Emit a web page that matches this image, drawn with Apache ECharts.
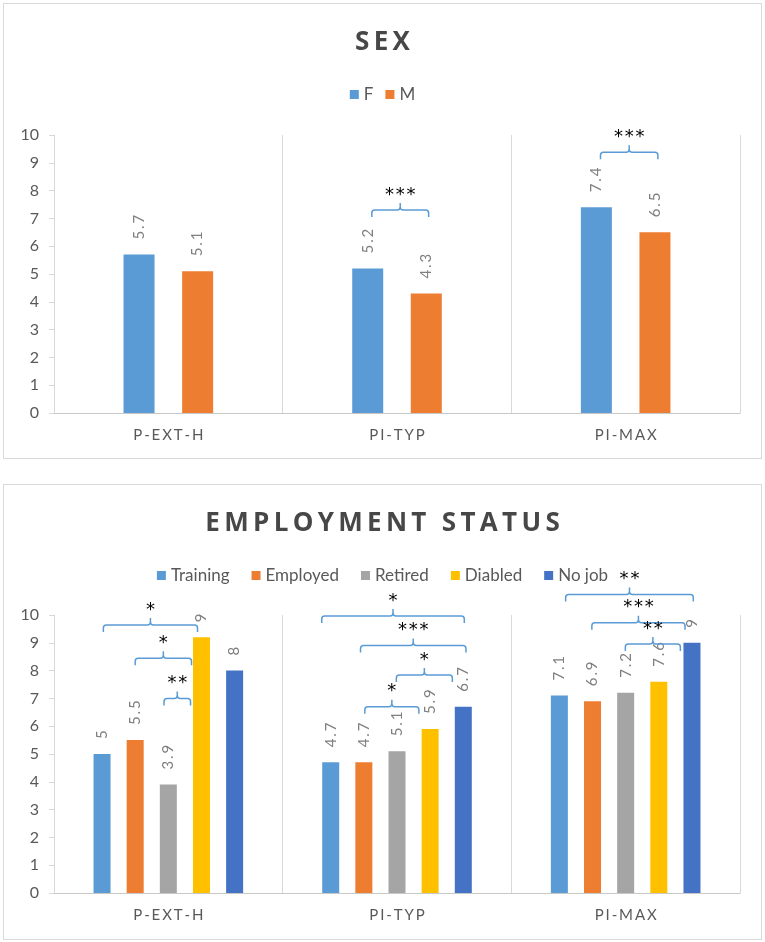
<!DOCTYPE html>
<html>
<head>
<meta charset="utf-8">
<script src="https://cdn.jsdelivr.net/npm/echarts@6/dist/echarts.min.js"></script>
<style>
  body { margin: 0; background: #fff; }
  .panel { position: absolute; left: 3px; width: 759px; height: 456px; box-sizing: border-box; border: 1px solid #d9d9d9; }
  #sexChart { top: 3px; }
  #empChart { top: 484px; }
</style>
</head>
<body>
<div id="sexChart" class="panel"></div>
<div id="empChart" class="panel"></div>
<script>
const categories = ['P-EXT-H', 'PI-TYP', 'PI-MAX'];

// SEX
const sexF = [5.7, 5.2, 7.4];
const sexM = [5.1, 4.3, 6.5];

// EMPLOYMENT STATUS
const training = [5, 4.7, 7.1];
const employed = [5.5, 4.7, 6.9];
const retired = [3.9, 5.1, 7.2];
const diabled = [9.2, 5.9, 7.6];
const noJob = [8, 6.7, 9];
const diabledLabels = ['9', '5.9', '7.6'];

// significance brackets: [category, from bar, to bar, height, stars]
const sexBrackets = [
  [1, 0.07, 1.04, 7.3, '***'],
  [2, 0.07, 1.05, 9.38, '***'],
];
const empBrackets = [
  [0, 0.04, 2.88, 9.64, '*'],
  [0, 1.0, 2.7, 8.44, '*'],
  [0, 1.87, 2.67, 7.0, '**'],
  [1, -0.27, 4.03, 9.96, '*'],
  [1, 0.9, 4.08, 8.9, '***'],
  [1, 1.98, 3.67, 7.84, '*'],
  [1, 1.03, 2.66, 6.7, '*'],
  [2, 0.19, 4.04, 10.74, '**'],
  [2, 0.98, 3.79, 9.72, '***'],
  [2, 1.99, 3.65, 8.96, '**'],
];

const textGray = '#595959';
const lineGray = '#d9d9d9';
const font = 'Lato';

const spaced = s => String(s).split('').join('\u2009');

function barSeries(name, data, color, width, labels) {
  return {
    name: name,
    type: 'bar',
    data: data,
    barWidth: width,
    itemStyle: { color: color },
    label: {
      show: true,
      position: 'top',
      rotate: 90,
      align: 'left',
      verticalAlign: 'middle',
      distance: 15,
      color: '#7f7f7f',
      fontFamily: font,
      fontSize: 15,
      formatter: p => spaced(labels ? labels[p.dataIndex] : p.value),
    },
  };
}

function bracketSeries(brackets, nBars, pitch) {
  return {
    type: 'custom',
    silent: true,
    clip: false,
    z: 5,
    data: brackets,
    encode: { x: 0, y: 3 },
    renderItem: function (params, api) {
      const b = brackets[params.dataIndex];
      const pt = api.coord([b[0], b[3]]);
      const mid = (nBars - 1) / 2;
      const x1 = pt[0] + (b[1] - mid) * pitch;
      const x2 = pt[0] + (b[2] - mid) * pitch;
      const y = pt[1];
      const xm = (x1 + x2) / 2;
      const h = 7, r = 3;
      const d =
        `M${x1} ${y + h} L${x1} ${y + r} Q${x1} ${y} ${x1 + r} ${y} L${xm - r} ${y} Q${xm} ${y} ${xm} ${y - r} L${xm} ${y - h} ` +
        `M${xm} ${y - r} Q${xm} ${y} ${xm + r} ${y} L${x2 - r} ${y} Q${x2} ${y} ${x2} ${y + r} L${x2} ${y + h}`;
      return {
        type: 'group',
        children: [
          { type: 'path', shape: { pathData: d }, style: { fill: null, stroke: '#5b9bd5', lineWidth: 1.5 } },
          {
            type: 'text',
            style: {
              text: b[4].split('').join('\u200a'),
              x: xm, y: y - 15,
              align: 'center', verticalAlign: 'middle',
              fill: '#000', fontFamily: 'DejaVu Sans', fontSize: 18,
            },
          },
        ],
      };
    },
  };
}

function baseOptions(title, legendNames, legendGap, gridTop, gridBottom) {
  return {
    animation: false,
    backgroundColor: '#fff',
    title: {
      text: spaced(title),
      left: 'center',
      top: 21,
      textStyle: { fontFamily: 'Open Sans', fontWeight: 'bold', fontSize: 26, color: '#474747' },
    },
    legend: {
      data: legendNames,
      top: 77,
      left: 'center',
      icon: 'rect',
      itemWidth: 9,
      itemHeight: 9,
      itemGap: legendGap,
      textStyle: { fontFamily: font, fontSize: 17, color: textGray },
    },
    grid: { left: 50, right: 21, top: gridTop, bottom: gridBottom },
    xAxis: {
      type: 'category',
      data: categories,
      axisLine: { lineStyle: { color: '#c8c8c8', width: 1 } },
      axisTick: { show: false },
      splitLine: { show: true, lineStyle: { color: lineGray } },
      axisLabel: { color: textGray, fontFamily: font, fontSize: 15, margin: 15, formatter: v => spaced(v) },
    },
    yAxis: {
      type: 'value',
      min: 0,
      max: 10,
      interval: 1,
      axisLine: { show: true, lineStyle: { color: lineGray } },
      axisTick: { show: true, length: 5, lineStyle: { color: lineGray } },
      splitLine: { show: false },
      axisLabel: { color: textGray, fontFamily: font, fontSize: 16, margin: 15 },
    },
  };
}

const sexChart = echarts.init(document.getElementById('sexChart'));
const sexOptions = baseOptions('SEX', ['F', 'M'], 12, 131, 45);
sexOptions.series = [
  Object.assign(barSeries('F', sexF, '#5b9bd5', 31), { barGap: '89%' }),
  barSeries('M', sexM, '#ed7d31', 31),
  bracketSeries(sexBrackets, 2, 31 * 1.89),
];
sexChart.setOption(sexOptions);

const empChart = echarts.init(document.getElementById('empChart'));
const empOptions = baseOptions('EMPLOYMENT STATUS', ['Training', 'Employed', 'Retired', 'Diabled', 'No job'], 22, 130, 46);
empOptions.series = [
  Object.assign(barSeries('Training', training, '#5b9bd5', 17), { barGap: '95%' }),
  barSeries('Employed', employed, '#ed7d31', 17),
  barSeries('Retired', retired, '#a5a5a5', 17),
  barSeries('Diabled', diabled, '#ffc000', 17, diabledLabels),
  barSeries('No job', noJob, '#4472c4', 17),
  bracketSeries(empBrackets, 5, 17 * 1.95),
];
empChart.setOption(empOptions);
</script>
</body>
</html>
